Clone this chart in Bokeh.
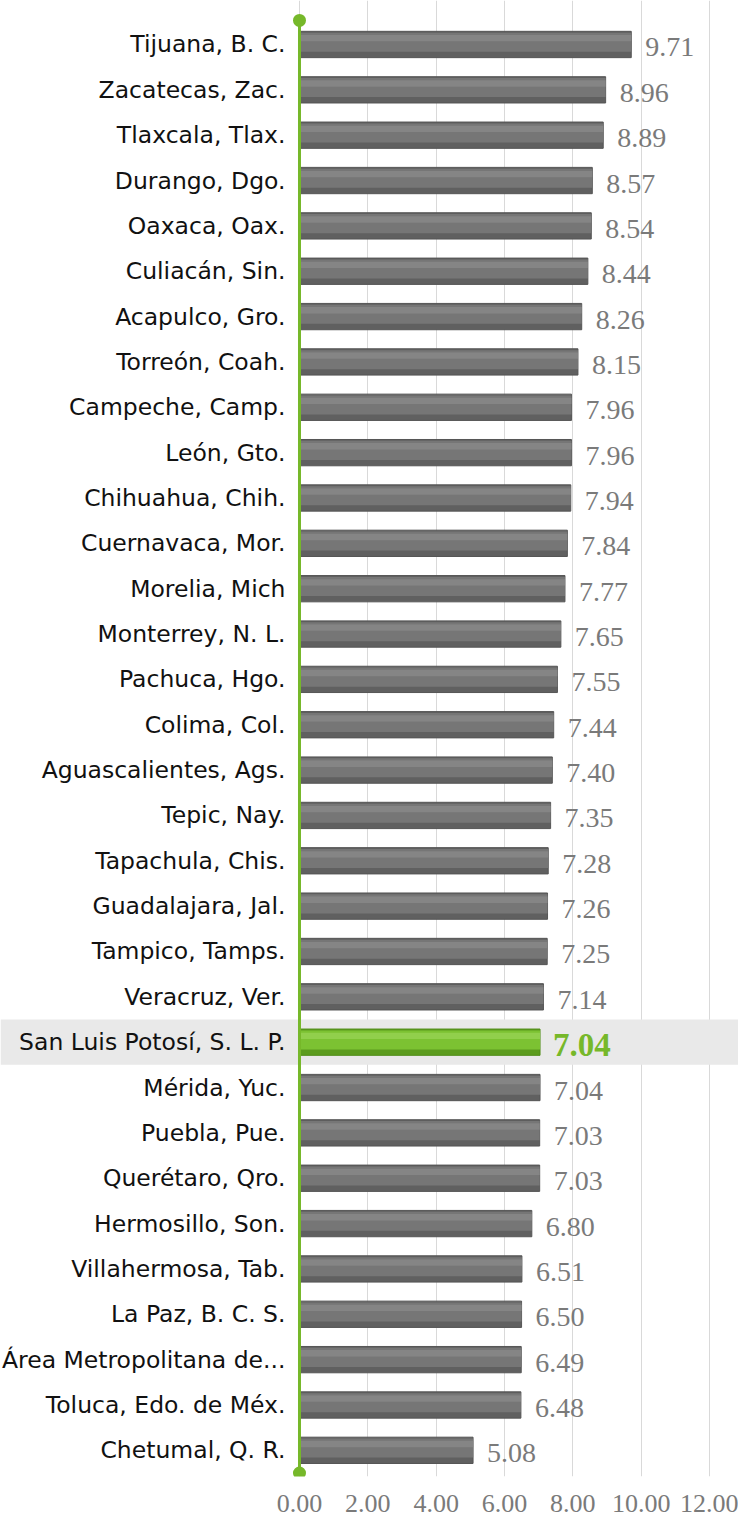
from bokeh.plotting import figure
from bokeh.models import ColumnDataSource, Range1d, FixedTicker, NumeralTickFormatter
from bokeh.core.properties import value
from bokeh.transform import dodge
from bokeh.embed import file_html
from bokeh.resources import INLINE

cities = [
    "Tijuana, B. C.", "Zacatecas, Zac.", "Tlaxcala, Tlax.", "Durango, Dgo.", "Oaxaca, Oax.",
    "Culiacán, Sin.", "Acapulco, Gro.", "Torreón, Coah.", "Campeche, Camp.", "León, Gto.",
    "Chihuahua, Chih.", "Cuernavaca, Mor.", "Morelia, Mich", "Monterrey, N. L.", "Pachuca, Hgo.",
    "Colima, Col.", "Aguascalientes, Ags.", "Tepic, Nay.", "Tapachula, Chis.", "Guadalajara, Jal.",
    "Tampico, Tamps.", "Veracruz, Ver.", "San Luis Potosí, S. L. P.", "Mérida, Yuc.", "Puebla, Pue.",
    "Querétaro, Qro.", "Hermosillo, Son.", "Villahermosa, Tab.", "La Paz, B. C. S.",
    "Área Metropolitana de...", "Toluca, Edo. de Méx.", "Chetumal, Q. R.",
]
values = [
    9.71, 8.96, 8.89, 8.57, 8.54, 8.44, 8.26, 8.15, 7.96, 7.96,
    7.94, 7.84, 7.77, 7.65, 7.55, 7.44, 7.40, 7.35, 7.28, 7.26,
    7.25, 7.14, 7.04, 7.04, 7.03, 7.03, 6.80, 6.51, 6.50, 6.49,
    6.48, 5.08,
]
highlight = "San Luis Potosí, S. L. P."
x_ticks = [0, 2, 4, 6, 8, 10, 12]

GREEN = "#76b82a"

idx = list(range(len(cities)))
is_hl = [c == highlight for c in cities]
src = ColumnDataSource(dict(y=idx, city=cities))


def subset(flag):
    return ColumnDataSource(dict(
        y=[i for i, h in zip(idx, is_hl) if h == flag],
        v=[v for v, h in zip(values, is_hl) if h == flag],
        lab=["%.2f" % v for v, h in zip(values, is_hl) if h == flag],
    ))


normal = subset(False)
hl = subset(True)

n = len(cities)
x0, x1 = -8.751, 12.849
p = figure(width=738, height=1520, output_backend="svg", toolbar_location=None,
           x_range=Range1d(x0, x1), y_range=Range1d(31.577, -0.970),
           min_border_left=0, min_border_right=0, min_border_top=0, min_border_bottom=44)
p.outline_line_color = None
p.background_fill_color = "white"
p.yaxis.visible = False
p.ygrid.visible = False

# grid and x axis
p.xaxis.ticker = FixedTicker(ticks=x_ticks)
p.xgrid.ticker = FixedTicker(ticks=x_ticks)
p.xgrid.grid_line_color = "#d9d9d9"
p.xgrid.grid_line_width = 1
p.xaxis.formatter = NumeralTickFormatter(format="0.00")
p.xaxis.axis_line_color = None
p.xaxis.major_tick_line_color = None
p.xaxis.minor_tick_line_color = None
p.xaxis.major_tick_out = 0
p.xaxis.major_tick_in = 0
p.xaxis.major_label_standoff = 18
p.xaxis.major_label_text_font = "Liberation Serif"
p.xaxis.major_label_text_font_size = "26px"
p.xaxis.major_label_text_color = "#7a7a7a"

# highlight band
p.hbar(y=hl.data["y"], left=x0, right=x1, height=1.0, fill_color="#e9e9e9", line_color=None)

# bars (layered for a bevelled look)
def bars(source, base, mid, light, edge):
    p.hbar(y="y", left=0, right="v", height=0.58, source=source,
           fill_color=base, line_color=edge, line_width=1)
    p.hbar(y=dodge("y", -0.05, range=p.y_range), left=0, right="v", height=0.42,
           source=source, fill_color=mid, line_color=None)
    p.hbar(y=dodge("y", -0.14, range=p.y_range), left=0, right="v", height=0.14,
           source=source, fill_color=light, line_color=None)


bars(normal, "#606060", "#767676", "#858585", "#555555")
bars(hl, "#5c9c1e", "#7cc232", "#91cf4c", "#528e1a")

# value labels
p.text(x="v", y="y", text="lab", source=normal, x_offset=14, y_offset=3,
       text_align="left", text_baseline="middle",
       text_font=value("Liberation Serif"), text_font_size="28px", text_color="#7a7a7a")
p.text(x="v", y="y", text="lab", source=hl, x_offset=13, y_offset=3,
       text_align="left", text_baseline="middle", text_font_style="bold",
       text_font=value("Liberation Serif"), text_font_size="33px", text_color=GREEN)

# category labels
p.text(x=0, y="y", text="city", source=src, x_offset=-14,
       text_align="right", text_baseline="middle",
       text_font=value("DejaVu Sans"), text_font_size="23.5px", text_color="#111111")

# green axis line with end dots
p.line(x=[0, 0], y=[-0.53, n - 0.5], line_color=GREEN, line_width=3)
p.scatter(x=[0, 0], y=[-0.53, n - 0.5], size=13, fill_color=GREEN, line_color=None)

open("out.html", "w").write(file_html(p, INLINE))
